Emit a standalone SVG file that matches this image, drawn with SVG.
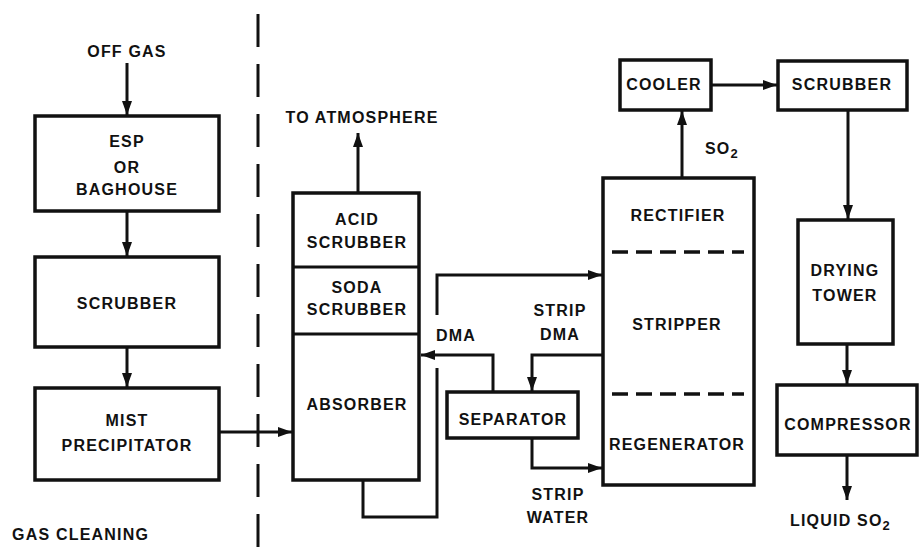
<svg xmlns="http://www.w3.org/2000/svg" width="919" height="557" viewBox="0 0 919 557">
<defs>
<style>
.box{fill:none;stroke:#111;stroke-width:3.5;stroke-linejoin:miter}
.ln{fill:none;stroke:#111;stroke-width:3}
.dash{fill:none;stroke:#111;stroke-width:3.5;stroke-dasharray:16 8}
.div{fill:none;stroke:#111;stroke-width:3;stroke-dasharray:33 17}
text{font-family:"Liberation Sans",Arial,sans-serif;font-weight:bold;font-size:16px;letter-spacing:1.2px;fill:#111;text-anchor:middle}
.st{text-anchor:start}
.sub{font-size:13px}
</style>
<marker id="arr" markerUnits="userSpaceOnUse" markerWidth="15" markerHeight="11" refX="14" refY="5" orient="auto">
<path d="M0,0 L14,5 L0,10 z" fill="#111"/>
</marker>
</defs>
<rect width="919" height="557" fill="#fff"/>

<line class="div" x1="258" y1="14" x2="258" y2="557"/>

<g id="esp"><rect class="box" x="35" y="116" width="184" height="95"/>
<text x="127" y="147">ESP</text><text x="127" y="173">OR</text><text x="127" y="195">BAGHOUSE</text></g>
<g id="scrubber1"><rect class="box" x="35" y="257" width="184" height="90"/>
<text x="127" y="309">SCRUBBER</text></g>
<g id="mist"><rect class="box" x="35" y="388" width="184" height="92"/>
<text x="127" y="426">MIST</text><text x="127" y="451">PRECIPITATOR</text></g>

<g id="absorber"><rect class="box" x="293" y="193" width="126" height="287"/>
<line class="ln" x1="293" y1="267" x2="419" y2="267"/>
<line class="ln" x1="293" y1="334" x2="419" y2="334"/>
<text x="357" y="225">ACID</text><text x="357" y="248">SCRUBBER</text>
<text x="357" y="293">SODA</text><text x="357" y="315">SCRUBBER</text>
<text x="357" y="410">ABSORBER</text></g>

<g id="separator"><rect class="box" x="447" y="392" width="131" height="46"/>
<text x="513" y="425">SEPARATOR</text></g>

<g id="column"><rect class="box" x="603" y="178" width="151" height="307"/>
<line class="dash" x1="612" y1="252" x2="744" y2="252"/>
<line class="dash" x1="612" y1="394" x2="744" y2="394"/>
<text x="678" y="221">RECTIFIER</text>
<text x="677" y="330">STRIPPER</text>
<text x="677" y="450">REGENERATOR</text></g>

<g id="cooler"><rect class="box" x="620" y="60" width="91" height="50"/>
<text x="664" y="90">COOLER</text></g>
<g id="scrubber2"><rect class="box" x="778" y="61" width="129" height="49"/>
<text x="842" y="90">SCRUBBER</text></g>
<g id="drying"><rect class="box" x="798" y="220" width="95" height="124"/>
<text x="845" y="276">DRYING</text><text x="845" y="301">TOWER</text></g>
<g id="compressor"><rect class="box" x="777" y="385" width="140" height="70"/>
<text x="848" y="430">COMPRESSOR</text></g>

<g id="labels">
<text x="127" y="57">OFF GAS</text>
<text class="st" x="12" y="540">GAS CLEANING</text>
<text x="362" y="123">TO ATMOSPHERE</text>
<text x="456" y="341">DMA</text>
<text x="560" y="316">STRIP</text><text x="560" y="340">DMA</text>
<text x="558" y="500">STRIP</text><text x="558" y="523">WATER</text>
<text class="st" x="705" y="154">SO<tspan class="sub" dy="4">2</tspan></text>
<text class="st" x="790" y="526">LIQUID SO<tspan class="sub" dy="4">2</tspan></text>
</g>

<g id="connectors">
<line class="ln" x1="127" y1="63" x2="127" y2="115" marker-end="url(#arr)"/>
<line class="ln" x1="127" y1="211" x2="127" y2="256" marker-end="url(#arr)"/>
<line class="ln" x1="127" y1="347" x2="127" y2="387" marker-end="url(#arr)"/>
<line class="ln" x1="219" y1="432" x2="292" y2="432" marker-end="url(#arr)"/>
<line class="ln" x1="358" y1="193" x2="358" y2="133" marker-end="url(#arr)"/>
<path class="ln" d="M363,480 V517 H437 V368"/>
<path class="ln" d="M437,315 V275 H602" marker-end="url(#arr)"/>
<path class="ln" d="M493,392 V355 H421" marker-end="url(#arr)"/>
<path class="ln" d="M603,355 H532 V391" marker-end="url(#arr)"/>
<path class="ln" d="M532,438 V468 H602" marker-end="url(#arr)"/>
<line class="ln" x1="682" y1="178" x2="682" y2="111" marker-end="url(#arr)"/>
<line class="ln" x1="711" y1="85" x2="777" y2="85" marker-end="url(#arr)"/>
<line class="ln" x1="848" y1="110" x2="848" y2="219" marker-end="url(#arr)"/>
<line class="ln" x1="847" y1="344" x2="847" y2="384" marker-end="url(#arr)"/>
<line class="ln" x1="847" y1="455" x2="847" y2="500" marker-end="url(#arr)"/>
</g>
</svg>
